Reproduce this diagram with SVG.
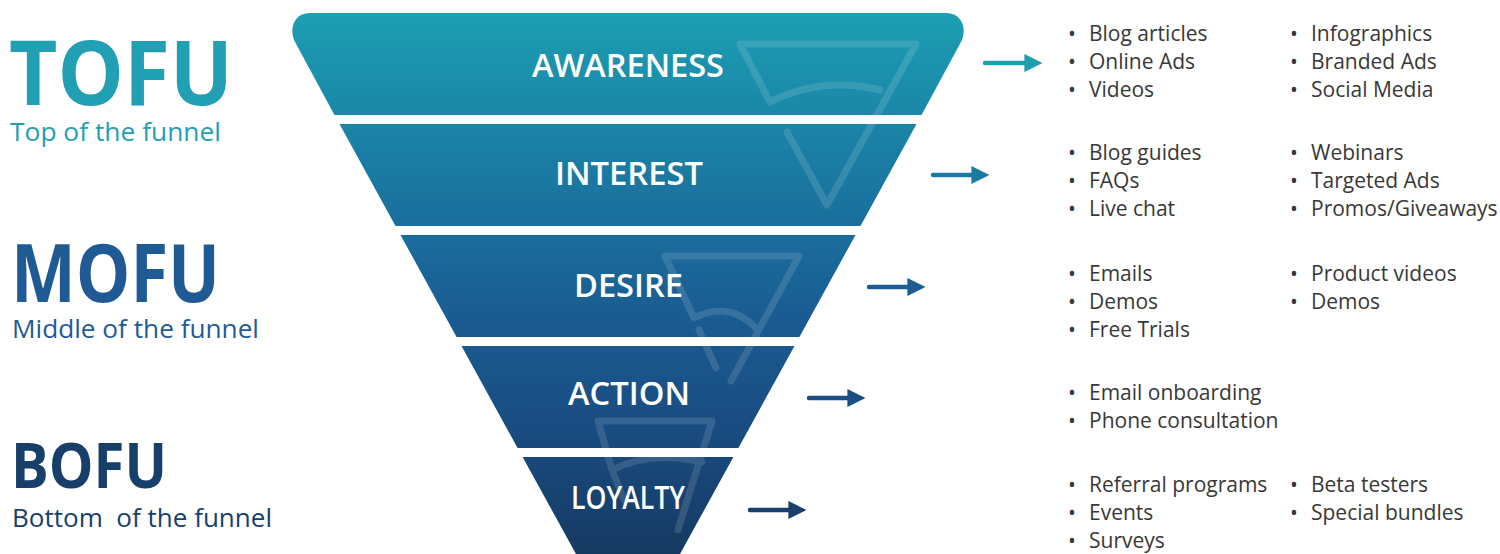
<svg xmlns="http://www.w3.org/2000/svg" width="1500" height="554" viewBox="0 0 1500 554">
<defs>
<linearGradient id="fg" gradientUnits="userSpaceOnUse" x1="0" y1="13" x2="0" y2="554">
<stop offset="0" stop-color="#1c9eb2"/>
<stop offset="0.3" stop-color="#1a79a2"/>
<stop offset="0.55" stop-color="#1a5d93"/>
<stop offset="0.78" stop-color="#194b80"/>
<stop offset="1" stop-color="#163a62"/>
</linearGradient>
<marker id="ah" viewBox="0 0 10 10" refX="2" refY="5" markerWidth="4" markerHeight="4.6" orient="auto" markerUnits="strokeWidth">
<path d="M0,0 L10,5 L0,10 Z" fill="context-stroke"/>
</marker>
<style>
.band{fill:url(#fg);}
.stage{font-family:"Open Sans","Liberation Sans",sans-serif;font-weight:600;font-size:33px;fill:#ffffff;text-anchor:middle;}
.big{font-family:"Open Sans","Liberation Sans",sans-serif;font-weight:700;}
.sub{font-family:"Open Sans","Liberation Sans",sans-serif;font-size:25px;}
.item{font-family:"Open Sans","Liberation Sans",sans-serif;font-size:21px;fill:#383838;}
.wm{fill:none;stroke:#ffffff;stroke-opacity:0.13;stroke-width:7;stroke-linejoin:round;stroke-linecap:round;}
.arr{fill:none;stroke-width:4.5;stroke-linecap:round;}
</style>
</defs>
<rect width="1500" height="554" fill="#ffffff"/>

<g id="labels">
<g id="tofu">
<text class="big" x="9" y="105" font-size="89" fill="#21a0b3" textLength="224" lengthAdjust="spacingAndGlyphs">TOFU</text>
<text class="sub" x="10" y="141" fill="#21a0b3" textLength="211" lengthAdjust="spacingAndGlyphs">Top of the funnel</text>
</g>
<g id="mofu">
<text class="big" x="11" y="302" font-size="80" fill="#1f5a94" textLength="209" lengthAdjust="spacingAndGlyphs">MOFU</text>
<text class="sub" x="12" y="338" fill="#1f5a94" textLength="247" lengthAdjust="spacingAndGlyphs">Middle of the funnel</text>
</g>
<g id="bofu">
<text class="big" x="11" y="488" font-size="63" fill="#173f69" textLength="156" lengthAdjust="spacingAndGlyphs">BOFU</text>
<text class="sub" x="12" y="527" fill="#173f69" textLength="260" lengthAdjust="spacingAndGlyphs" xml:space="preserve">Bottom  of the funnel</text>
</g>
</g>

<g id="funnel">
<g id="awareness">
<path class="band" d="M334.5,115 L921.5,115 L961,42 C967,30 963,13 946,13 L310,13 C293,13 289,30 295,42 Z"/>
<text class="stage" x="628" y="77" textLength="192" lengthAdjust="spacingAndGlyphs">AWARENESS</text>
</g>
<g id="interest">
<path class="band" d="M339.5,124 L916.5,124 L860.5,226 L395.5,226 Z"/>
<text class="stage" x="629" y="185" textLength="148" lengthAdjust="spacingAndGlyphs">INTEREST</text>
</g>
<g id="desire">
<path class="band" d="M400.5,235 L855.5,235 L799.4,337 L456.6,337 Z"/>
<text class="stage" x="628.5" y="297" textLength="109" lengthAdjust="spacingAndGlyphs">DESIRE</text>
</g>
<g id="action">
<path class="band" d="M461.5,346 L794.5,346 L738.4,448 L517.6,448 Z"/>
<text class="stage" x="629" y="405" textLength="122" lengthAdjust="spacingAndGlyphs">ACTION</text>
</g>
<g id="loyalty">
<path class="band" d="M522.6,457 L733.4,457 L680,554 L576,554 Z"/>
<text class="stage" x="628" y="509" font-size="30" textLength="114" lengthAdjust="spacingAndGlyphs">LOYALTY</text>
</g>
<g id="watermark">
<path class="wm" d="M740,44 L916,44 L827,205 M740,44 L770,102 Q822,76 880,90 M787,132 L827,205"/>
<path class="wm" d="M665,256 L799,256 L731,381 M665,256 L694,318 Q728,300 756,328 M699,330 L716,368"/>
<path class="wm" d="M598,421 L712,421 L678,530 M598,421 L612,470 Q650,450 702,462 M612,470 L624,500"/>
</g>
</g>

<g id="connectors">
<line class="arr" x1="985" y1="63" x2="1028" y2="63" stroke="#1f9db1" marker-end="url(#ah)"/>
<line class="arr" x1="933" y1="175" x2="975" y2="175" stroke="#1b7aa4" marker-end="url(#ah)"/>
<line class="arr" x1="869" y1="287" x2="911" y2="287" stroke="#1c5d94" marker-end="url(#ah)"/>
<line class="arr" x1="809" y1="398" x2="851" y2="398" stroke="#1b4f83" marker-end="url(#ah)"/>
<line class="arr" x1="750" y1="510" x2="792" y2="510" stroke="#193f6b" marker-end="url(#ah)"/>
</g>

<g id="lists">
<g id="list-awareness">
<text class="item" x="1072" y="41" text-anchor="middle">•</text><text class="item" x="1089" y="41">Blog articles</text>
<text class="item" x="1072" y="69" text-anchor="middle">•</text><text class="item" x="1089" y="69">Online Ads</text>
<text class="item" x="1072" y="97" text-anchor="middle">•</text><text class="item" x="1089" y="97">Videos</text>
<text class="item" x="1294" y="41" text-anchor="middle">•</text><text class="item" x="1311" y="41">Infographics</text>
<text class="item" x="1294" y="69" text-anchor="middle">•</text><text class="item" x="1311" y="69">Branded Ads</text>
<text class="item" x="1294" y="97" text-anchor="middle">•</text><text class="item" x="1311" y="97">Social Media</text>
</g>
<g id="list-interest">
<text class="item" x="1072" y="160" text-anchor="middle">•</text><text class="item" x="1089" y="160">Blog guides</text>
<text class="item" x="1072" y="188" text-anchor="middle">•</text><text class="item" x="1089" y="188">FAQs</text>
<text class="item" x="1072" y="216" text-anchor="middle">•</text><text class="item" x="1089" y="216">Live chat</text>
<text class="item" x="1294" y="160" text-anchor="middle">•</text><text class="item" x="1311" y="160">Webinars</text>
<text class="item" x="1294" y="188" text-anchor="middle">•</text><text class="item" x="1311" y="188">Targeted Ads</text>
<text class="item" x="1294" y="216" text-anchor="middle">•</text><text class="item" x="1311" y="216">Promos/Giveaways</text>
</g>
<g id="list-desire">
<text class="item" x="1072" y="281" text-anchor="middle">•</text><text class="item" x="1089" y="281">Emails</text>
<text class="item" x="1072" y="309" text-anchor="middle">•</text><text class="item" x="1089" y="309">Demos</text>
<text class="item" x="1072" y="337" text-anchor="middle">•</text><text class="item" x="1089" y="337">Free Trials</text>
<text class="item" x="1294" y="281" text-anchor="middle">•</text><text class="item" x="1311" y="281">Product videos</text>
<text class="item" x="1294" y="309" text-anchor="middle">•</text><text class="item" x="1311" y="309">Demos</text>
</g>
<g id="list-action">
<text class="item" x="1072" y="400" text-anchor="middle">•</text><text class="item" x="1089" y="400">Email onboarding</text>
<text class="item" x="1072" y="428" text-anchor="middle">•</text><text class="item" x="1089" y="428">Phone consultation</text>
</g>
<g id="list-loyalty">
<text class="item" x="1072" y="492" text-anchor="middle">•</text><text class="item" x="1089" y="492">Referral programs</text>
<text class="item" x="1072" y="520" text-anchor="middle">•</text><text class="item" x="1089" y="520">Events</text>
<text class="item" x="1072" y="548" text-anchor="middle">•</text><text class="item" x="1089" y="548">Surveys</text>
<text class="item" x="1294" y="492" text-anchor="middle">•</text><text class="item" x="1311" y="492">Beta testers</text>
<text class="item" x="1294" y="520" text-anchor="middle">•</text><text class="item" x="1311" y="520">Special bundles</text>
</g>
</g>
</svg>
